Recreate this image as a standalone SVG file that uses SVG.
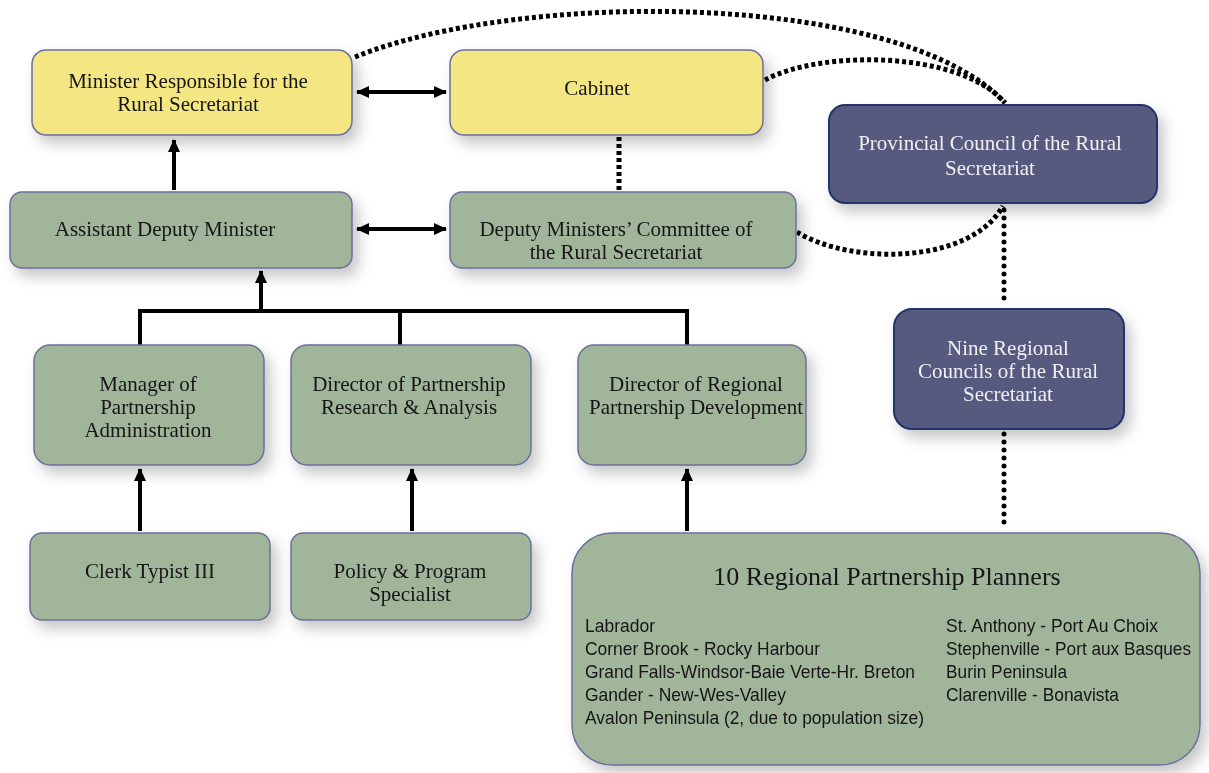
<svg xmlns="http://www.w3.org/2000/svg" width="1209" height="773" viewBox="0 0 1209 773">
<defs>
<filter id="sh" x="-20%" y="-20%" width="150%" height="160%">
<feDropShadow dx="6" dy="8" stdDeviation="7" flood-color="#000" flood-opacity="0.22"/>
</filter>
<marker id="ah" markerUnits="userSpaceOnUse" markerWidth="14" markerHeight="14" viewBox="0 0 14 14" refX="12" refY="7" orient="auto-start-reverse">
<path d="M0,1 L13,7 L0,13 Z" fill="#000"/>
</marker>
<style>
.y{fill:#f4e683;stroke:#6b6f9c;stroke-width:1.5}
.g{fill:#a1b59b;stroke:#6b6f9c;stroke-width:1.5}
.p{fill:#575a7e;stroke:#22356a;stroke-width:2}
.t{font-family:"Liberation Serif","Times New Roman",serif;font-size:21px;fill:#151515;text-anchor:middle}
.w{font-family:"Liberation Serif","Times New Roman",serif;font-size:21px;fill:#f0f0f4;text-anchor:middle}
.s{font-family:"Liberation Sans",Arial,sans-serif;font-size:19px;fill:#151515}
.a{fill:none;stroke:#000;stroke-width:4}
.sq{fill:none;stroke:#000;stroke-width:5;stroke-dasharray:4 3}
.dt{fill:none;stroke:#000;stroke-width:5;stroke-linecap:round;stroke-dasharray:0 8}
</style>
</defs>
<g id="connectors">
<path class="sq" d="M355,57 C520,-10 900,-10 1005,103"/>
<path class="sq" d="M765,80 C820,50 960,50 1005,103"/>
<path class="sq" d="M797,232 C850,265 970,265 1003,206"/>
<path class="sq" d="M619,137 L619,190"/>
<path class="dt" d="M1004,210 L1004,305"/>
<path class="dt" d="M1004,434 L1004,528"/>
<path class="a" d="M174,190 L174,140" marker-end="url(#ah)"/>
<path class="a" d="M357,92 L446,92" marker-start="url(#ah)" marker-end="url(#ah)"/>
<path class="a" d="M357,229 L446,229" marker-start="url(#ah)" marker-end="url(#ah)"/>
<path class="a" d="M261,311 L261,271" marker-end="url(#ah)"/>
<path class="a" d="M140,345 L140,311 L687,311 L687,345 M400,311 L400,345"/>
<path class="a" d="M140,531 L140,469" marker-end="url(#ah)"/>
<path class="a" d="M412,531 L412,469" marker-end="url(#ah)"/>
<path class="a" d="M687,531 L687,469" marker-end="url(#ah)"/>
</g>
<g id="minister" filter="url(#sh)">
<rect class="y" x="32" y="50" width="320" height="85" rx="14"/>
<text class="t" x="188" y="88">Minister Responsible for the</text>
<text class="t" x="188" y="111">Rural Secretariat</text>
</g>
<g id="cabinet" filter="url(#sh)">
<rect class="y" x="450" y="50" width="313" height="85" rx="14"/>
<text class="t" x="597" y="95">Cabinet</text>
</g>
<g id="adm" filter="url(#sh)">
<rect class="g" x="10" y="192" width="342" height="76" rx="12"/>
<text class="t" x="165" y="236">Assistant Deputy Minister</text>
</g>
<g id="dmc" filter="url(#sh)">
<rect class="g" x="450" y="192" width="346" height="76" rx="12"/>
<text class="t" x="616" y="236">Deputy Ministers’ Committee of</text>
<text class="t" x="616" y="259">the Rural Secretariat</text>
</g>
<g id="provincial" filter="url(#sh)">
<rect class="p" x="829" y="105" width="328" height="98" rx="16"/>
<text class="w" x="990" y="150">Provincial Council of the Rural</text>
<text class="w" x="990" y="175">Secretariat</text>
</g>
<g id="nine" filter="url(#sh)">
<rect class="p" x="894" y="309" width="230" height="120" rx="18"/>
<text class="w" x="1008" y="355">Nine Regional</text>
<text class="w" x="1008" y="378">Councils of the Rural</text>
<text class="w" x="1008" y="401">Secretariat</text>
</g>
<g id="manager" filter="url(#sh)">
<rect class="g" x="34" y="345" width="230" height="120" rx="16"/>
<text class="t" x="148" y="391">Manager of</text>
<text class="t" x="148" y="414">Partnership</text>
<text class="t" x="148" y="437">Administration</text>
</g>
<g id="dirpra" filter="url(#sh)">
<rect class="g" x="291" y="345" width="240" height="120" rx="16"/>
<text class="t" x="409" y="391">Director of Partnership</text>
<text class="t" x="409" y="414">Research &amp; Analysis</text>
</g>
<g id="dirrpd" filter="url(#sh)">
<rect class="g" x="578" y="345" width="228" height="120" rx="16"/>
<text class="t" x="696" y="391">Director of Regional</text>
<text class="t" x="696" y="414" textLength="214" lengthAdjust="spacingAndGlyphs">Partnership Development</text>
</g>
<g id="clerk" filter="url(#sh)">
<rect class="g" x="30" y="533" width="240" height="87" rx="12"/>
<text class="t" x="150" y="578">Clerk Typist III</text>
</g>
<g id="policy" filter="url(#sh)">
<rect class="g" x="291" y="533" width="240" height="87" rx="12"/>
<text class="t" x="410" y="578">Policy &amp; Program</text>
<text class="t" x="410" y="601">Specialist</text>
</g>
<g id="planners" filter="url(#sh)">
<rect class="g" x="572" y="533" width="628" height="232" rx="40"/>
<text class="t" x="887" y="585" style="font-size:26px">10 Regional Partnership Planners</text>
<text class="s" x="585" y="632" textLength="70" lengthAdjust="spacingAndGlyphs">Labrador</text>
<text class="s" x="585" y="655" textLength="235" lengthAdjust="spacingAndGlyphs">Corner Brook - Rocky Harbour</text>
<text class="s" x="585" y="678" textLength="330" lengthAdjust="spacingAndGlyphs">Grand Falls-Windsor-Baie Verte-Hr. Breton</text>
<text class="s" x="585" y="701" textLength="201" lengthAdjust="spacingAndGlyphs">Gander - New-Wes-Valley</text>
<text class="s" x="585" y="724" textLength="339" lengthAdjust="spacingAndGlyphs">Avalon Peninsula (2, due to population size)</text>
<text class="s" x="946" y="632" textLength="212" lengthAdjust="spacingAndGlyphs">St. Anthony - Port Au Choix</text>
<text class="s" x="946" y="655" textLength="245" lengthAdjust="spacingAndGlyphs">Stephenville - Port aux Basques</text>
<text class="s" x="946" y="678" textLength="121" lengthAdjust="spacingAndGlyphs">Burin Peninsula</text>
<text class="s" x="946" y="701" textLength="173" lengthAdjust="spacingAndGlyphs">Clarenville - Bonavista</text>
</g>
</svg>
